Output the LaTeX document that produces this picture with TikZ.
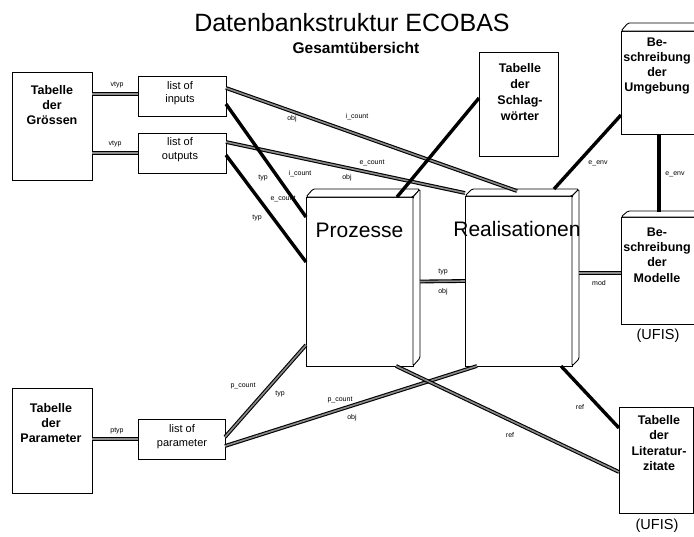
\documentclass[tikz,border=0pt]{standalone}
\usepackage{fontspec}
\setmainfont{Liberation Sans}
\begin{document}
\begin{tikzpicture}[x=1pt,y=-1pt,
  box/.style={draw, line width=0.9pt, fill=white, inner sep=0, outer sep=0, anchor=north west},
  face/.style={draw, line width=0.9pt, fill=white, line join=round, rounded corners=1.5pt},
  rel/.style={line width=1.1pt, double=black!45, double distance=1.6pt},
  relb/.style={line width=3.4pt, draw=black},
  lab/.style={font=\fontsize{7}{8}\selectfont, inner sep=0},
  tb/.style={font=\bfseries\fontsize{12.5}{15.3}\selectfont, align=center, inner sep=0},
  lt/.style={font=\fontsize{11}{13.5}\selectfont, align=center, inner sep=0},
  big/.style={font=\fontsize{21}{24}\selectfont, inner sep=0, anchor=base},
  ufis/.style={font=\fontsize{14.5}{16}\selectfont, inner sep=0}]
\useasboundingbox (0,0) rectangle (694,536);
\clip (0,0) rectangle (694,536);

% title
\node[font=\fontsize{25}{30}\selectfont, anchor=base, inner sep=0] (title) at (352,31) {Datenbankstruktur ECOBAS};
\node[font=\bfseries\fontsize{15.5}{18}\selectfont, anchor=base, inner sep=0] (sub) at (356,53) {Gesamtübersicht};

% flat tables
\node[box, minimum width=80pt, minimum height=108pt] (gross) at (12,72) {};
\node[box, minimum width=88pt, minimum height=40pt] (inputs) at (138,76) {};
\node[box, minimum width=88pt, minimum height=40pt] (outputs) at (138,133) {};
\node[box, minimum width=80pt, minimum height=105pt] (params) at (12,388) {};
\node[box, minimum width=87pt, minimum height=40pt] (lpar) at (138,419) {};
\node[box, minimum width=79pt, minimum height=104pt] (schlag) at (479,52) {};
\node[box, minimum width=74pt, minimum height=106pt] (lit) at (619,407) {};

% block-shaped tables: front face plus top and side faces
\node[box, minimum width=107pt, minimum height=169pt] (proz) at (306,197) {};
\draw[face] (proz.north west) -- ++(7,-8) -- ++(107,0) -- (proz.north east) -- cycle;
\draw[face] (proz.north east) -- ++(7,-8) -- ++(0,169) -- (proz.south east) -- cycle;

\node[box, minimum width=107pt, minimum height=170pt] (real) at (465,196) {};
\draw[face] (real.north west) -- ++(7,-7) -- ++(107,0) -- (real.north east) -- cycle;
\draw[face] (real.north east) -- ++(7,-7) -- ++(0,170) -- (real.south east) -- cycle;

\node[box, minimum width=79pt, minimum height=103pt] (umg) at (621,31) {};
\draw[face] (umg.north west) -- ++(7,-8) -- ++(79,0) -- (umg.north east) -- cycle;

\node[box, minimum width=79pt, minimum height=107pt] (modl) at (621,217) {};
\draw[face] (modl.north west) -- ++(7,-6) -- ++(79,0) -- (modl.north east) -- cycle;

% relations
\draw[rel] ([yshift=-22pt]gross.north east) -- ([yshift=-18pt]inputs.north west);
\draw[rel] ([yshift=-81pt]gross.north east) -- (outputs.west);
\draw[rel] ([yshift=-51pt]params.north east) -- (lpar.west);
\draw[rel] ([yshift=-12pt]inputs.north east) -- ([xshift=52pt,yshift=5pt]real.north west);
\draw[rel] ([yshift=-9pt]outputs.north east) -- ([yshift=3pt]real.north west);
\draw[relb] ([yshift=-28pt]inputs.north east) -- ([yshift=-20pt]proz.north west);
\draw[relb] ([yshift=-22pt]outputs.north east) -- ([yshift=-65pt]proz.north west);
\draw[relb] ([xshift=91pt]proz.north west) -- ([yshift=-46pt]schlag.north west);
\draw[relb] ([xshift=89pt,yshift=7pt]real.north west) -- ([yshift=19pt]umg.south west);
\draw[relb] ([xshift=38pt]umg.south west) -- ([xshift=38pt,yshift=5pt]modl.north west);
\draw[rel] ([xshift=7pt]proz.east) -- (real.west);
\draw[rel] ([xshift=7pt,yshift=8pt]real.east) -- ([yshift=-2.5pt]modl.west);
\draw[rel] ([yshift=-18pt]lpar.north east) -- ([yshift=21pt]proz.south west);
\draw[rel] ([yshift=-27pt]lpar.north east) -- ([xshift=12pt]real.south west);
\draw[rel] ([xshift=90pt]proz.south west) -- ([yshift=-65pt]lit.north west);
\draw[relb] ([xshift=96pt]real.south west) -- ([yshift=-21pt]lit.north west);

% table captions
\node[tb] (grossT) at (52,105) {Tabelle\\der\\Grössen};
\node[lt] (inputsT) at (180,93) {list of\\inputs};
\node[lt] (outputsT) at (180,149.5) {list of\\outputs};
\node[tb] (paramsT) at (51,423) {Tabelle\\der\\Parameter};
\node[lt] (lparT) at (182,436.5) {list of\\parameter};
\node[tb, font=\bfseries\fontsize{12.5}{16.3}\selectfont] (schlagT) at (520,92) {Tabelle\\der\\Schlag-\\wörter};
\node[tb] (umgT) at (657,66) {Be-\\schreibung\\der\\Umgebung};
\node[tb] (modlT) at (657,255) {Be-\\schreibung\\der\\Modelle};
\node[tb] (litT) at (659,443) {Tabelle\\der\\Literatur-\\zitate};
\node[big] (prozT) at (359.5,237) {Prozesse};
\node[big] (realT) at (517,236) {Realisationen};
\node[ufis] (ufisA) at (658,336) {(UFIS)};
\node[ufis] (ufisB) at (657,526) {(UFIS)};

% relation labels
\node[lab] (l1) at (117,85) {vtyp};
\node[lab] (l2) at (115,144) {vtyp};
\node[lab] (l3) at (117,431) {ptyp};
\node[lab] (l4) at (292,119) {obj};
\node[lab] (l5) at (357,117) {i\_count};
\node[lab] (l6) at (372,163) {e\_count};
\node[lab] (l7) at (347,178) {obj};
\node[lab] (l8) at (263,178) {typ};
\node[lab] (l9) at (300,174) {i\_count};
\node[lab] (l10) at (257,218) {typ};
\node[lab] (l11) at (283,199) {e\_count};
\node[lab] (l12) at (598,163) {e\_env};
\node[lab] (l13) at (675,174) {e\_env};
\node[lab] (l14) at (443,272) {typ};
\node[lab] (l15) at (443,292) {obj};
\node[lab] (l16) at (599,283) {mod};
\node[lab] (l17) at (243,386) {p\_count};
\node[lab] (l18) at (280,394) {typ};
\node[lab] (l19) at (340,400) {p\_count};
\node[lab] (l20) at (352,418) {obj};
\node[lab] (l21) at (510,435) {ref};
\node[lab] (l22) at (580,407) {ref};
\end{tikzpicture}
\end{document}
